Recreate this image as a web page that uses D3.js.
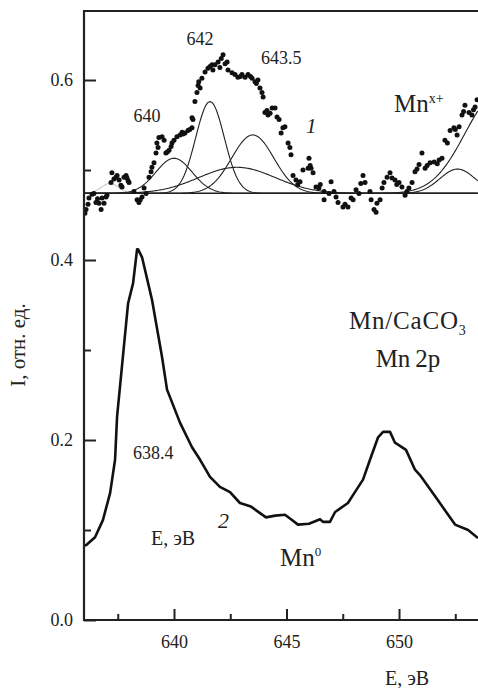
<!DOCTYPE html>
<html><head><meta charset="utf-8">
<script src="https://cdn.jsdelivr.net/npm/d3@7"></script>
<style>
html,body{margin:0;padding:0;background:#fff;}
svg{display:block;}
</style></head>
<body><svg id="c" width="478" height="688"></svg>
<script>
// ---- data ----
const xTicksMajor = [640, 645, 650];
const xTicksMinor = [637.5, 642.5, 647.5, 652.5];
const yTicksMajor = [0.0, 0.2, 0.4, 0.6];
const yTicksMinor = [0.1, 0.3, 0.5];
const yTickLabels = ["0.0", "0.2", "0.4", "0.6"];

// curve 2 (Mn0)
const curve2E = [636.0,636.09,636.49,636.84,637.16,637.38,637.47,637.96,638.18,638.36,638.4,638.58,639.02,639.47,639.69,640.27,640.8,641.16,641.6,642.04,642.49,642.93,643.42,644.09,644.5,644.93,645.2,645.51,646.0,646.49,646.62,646.93,647.16,647.73,648.09,648.4,648.71,649.07,649.29,649.6,649.82,650.31,650.71,650.93,651.73,652.49,653.07,653.51];
const curve2I = [0.083,0.083,0.092,0.111,0.141,0.178,0.226,0.352,0.374,0.412,0.412,0.403,0.356,0.292,0.256,0.219,0.192,0.178,0.159,0.148,0.142,0.130,0.126,0.114,0.116,0.117,0.112,0.106,0.107,0.112,0.109,0.109,0.120,0.130,0.144,0.156,0.178,0.203,0.209,0.209,0.197,0.189,0.167,0.161,0.133,0.106,0.100,0.091];

// curve 1 (Mnx+) experimental points
const dotsE = [636.04,636.09,636.22,636.36,636.44,636.53,636.67,636.76,636.80,636.89,636.98,637.02,637.20,637.24,637.42,637.47,637.56,637.64,637.69,637.78,637.87,637.91,638.00,638.22,638.36,638.44,638.58,638.67,638.76,638.89,638.98,639.02,639.11,639.20,639.24,639.33,639.47,639.56,639.64,639.78,639.87,639.91,640.00,640.13,640.27,640.36,640.49,640.62,640.80,640.84,640.80,640.93,641.02,641.07,641.16,641.24,641.38,641.51,641.69,641.73,641.82,641.96,642.04,642.18,642.36,642.40,642.58,642.71,642.84,643.02,643.16,643.29,643.47,643.60,643.73,643.82,643.91,643.96,644.04,644.18,644.27,644.36,644.49,644.58,644.76,644.84,644.93,645.07,645.20,645.29,645.42,645.60,645.73,645.96,646.00,646.09,646.18,646.31,646.44,646.67,646.67,646.89,646.98,647.11,647.29,647.51,647.73,647.87,647.96,648.09,648.22,648.40,648.49,648.71,648.76,648.89,648.98,649.02,649.16,649.33,649.47,649.60,649.69,649.82,650.00,650.13,650.27,650.44,650.58,650.71,650.89,651.02,651.16,651.38,651.56,651.78,651.91,652.04,652.27,652.44,652.58,652.67,652.80,652.93,653.11,653.24,653.38,653.47,
  636.18,636.60,637.33,637.96,638.50,639.29,639.70,640.40,640.70,641.10,641.60,642.10,642.27,642.95,643.40,643.66,644.13,644.67,645.15,645.50,646.05,646.50,647.20,647.60,648.30,649.25,649.90,650.35,650.80,651.25,651.70,652.15,652.50,652.87,653.31];
const dotsI = [0.452,0.456,0.469,0.473,0.474,0.464,0.463,0.456,0.469,0.463,0.470,0.472,0.486,0.497,0.492,0.494,0.489,0.483,0.481,0.492,0.494,0.491,0.486,0.476,0.467,0.464,0.470,0.480,0.474,0.492,0.498,0.503,0.508,0.519,0.530,0.536,0.537,0.533,0.519,0.522,0.526,0.530,0.533,0.537,0.539,0.542,0.541,0.544,0.547,0.556,0.558,0.576,0.586,0.594,0.591,0.602,0.609,0.613,0.617,0.611,0.617,0.620,0.614,0.628,0.620,0.611,0.608,0.606,0.603,0.606,0.603,0.606,0.602,0.598,0.600,0.591,0.586,0.581,0.564,0.561,0.563,0.569,0.569,0.559,0.541,0.547,0.548,0.530,0.517,0.494,0.489,0.487,0.500,0.502,0.513,0.502,0.497,0.481,0.480,0.476,0.467,0.474,0.487,0.476,0.464,0.459,0.459,0.469,0.467,0.478,0.474,0.494,0.486,0.476,0.467,0.456,0.453,0.463,0.467,0.486,0.492,0.497,0.491,0.489,0.486,0.481,0.472,0.480,0.486,0.498,0.506,0.519,0.502,0.508,0.509,0.511,0.513,0.533,0.544,0.547,0.539,0.548,0.561,0.572,0.564,0.561,0.570,0.578,
  0.462,0.468,0.490,0.488,0.467,0.525,0.520,0.540,0.545,0.598,0.615,0.624,0.618,0.604,0.604,0.596,0.566,0.556,0.525,0.484,0.505,0.484,0.470,0.462,0.485,0.480,0.484,0.476,0.501,0.505,0.507,0.530,0.545,0.565,0.567];

// fitted components (peak position, height above background, FWHM)
const fitBaseline = 0.474;
const compCenter = [637.15, 640.0, 641.6, 643.5, 642.8, 652.6, 654.35];
const compHeight = [0.011, 0.039, 0.102, 0.065, 0.029, 0.027, 0.109];
const compFwhm   = [0.9, 1.9, 1.5, 2.2, 4.0, 1.85, 3.37];
const compColor  = ["#c8c8c8", "#222", "#222", "#222", "#222", "#222", "#222"];

// ---- drawing ----
const FONT = '"Liberation Serif"';
const svg = d3.select("#c");
const L = 84, R = 478, T = 11, B = 620;
const x = d3.scaleLinear().domain([636, 653.51]).range([L, R]);
const y = d3.scaleLinear().domain([0, 0.6]).range([B, 80]);

svg.append("clipPath").attr("id","clip").append("rect")
  .attr("x", L).attr("y", T).attr("width", R - L).attr("height", B - T);
const plot = svg.append("g").attr("clip-path","url(#clip)");

// baseline of fit
plot.append("line").attr("x1", L).attr("x2", R)
  .attr("y1", y(fitBaseline)).attr("y2", y(fitBaseline))
  .attr("stroke", "#333").attr("stroke-width", 1);

// components
const grid = d3.range(636, 653.55, 0.05);
const line = d3.line().x(d => x(d[0])).y(d => y(d[1]));
compCenter.forEach((c, i) => {
  const s = compFwhm[i] / 2.3548;
  const pts = grid.map(e => [e, fitBaseline + compHeight[i] * Math.exp(-((e - c) ** 2) / (2 * s * s))]);
  plot.append("path").attr("d", line(pts)).attr("fill", "none")
    .attr("stroke", compColor[i]).attr("stroke-width", 1.1);
});

// dots
plot.selectAll("circle.d").data(dotsE.map((e, i) => [e, dotsI[i]])).enter()
  .append("circle").attr("class","d")
  .attr("cx", d => x(d[0])).attr("cy", d => y(d[1])).attr("r", 2.5).attr("fill", "#111");

// curve 2
plot.append("path").attr("d", line(curve2E.map((e, i) => [e, curve2I[i]])))
  .attr("fill", "none").attr("stroke", "#111").attr("stroke-width", 2.6)
  .attr("stroke-linejoin", "round");

// axes
const fs = 18;
const gx = svg.append("g").attr("transform", `translate(0,${B})`)
  .call(d3.axisBottom(x).tickValues(xTicksMajor).tickFormat(d3.format("d")).tickSize(-11).tickSizeOuter(0).tickPadding(15));
const gxm = svg.append("g").attr("transform", `translate(0,${B})`)
  .call(d3.axisBottom(x).tickValues(xTicksMinor).tickFormat("").tickSize(-6).tickSizeOuter(0));
const gy = svg.append("g").attr("transform", `translate(${L},0)`)
  .call(d3.axisLeft(y).tickValues(yTicksMajor).tickFormat((d, i) => yTickLabels[i]).tickSize(-12).tickSizeOuter(0).tickPadding(11));
const gym = svg.append("g").attr("transform", `translate(${L},0)`)
  .call(d3.axisLeft(y).tickValues(yTicksMinor).tickFormat("").tickSize(-7).tickSizeOuter(0));
[gx, gxm, gy, gym].forEach(g => {
  g.attr("font-family", null).attr("font-size", null);
  g.selectAll("path.domain").remove();
  g.selectAll(".tick line").attr("stroke", "#222").attr("stroke-width", 2);
  g.selectAll(".tick text").attr("font-size", fs).attr("font-family", "Liberation Serif").style("font-family", FONT).attr("fill", "#222");
});
// frame lines
svg.append("line").attr("x1", L).attr("x2", L).attr("y1", T).attr("y2", B + 1).attr("stroke", "#222").attr("stroke-width", 2.2);
svg.append("line").attr("x1", L - 1).attr("x2", R).attr("y1", B).attr("y2", B).attr("stroke", "#222").attr("stroke-width", 2.2);
svg.append("line").attr("x1", L - 1).attr("x2", R).attr("y1", T).attr("y2", T).attr("stroke", "#222").attr("stroke-width", 2.2);

// texts
function txt(s, xx, yy, size, opts = {}) {
  const t = svg.append("text").attr("x", xx).attr("y", yy).attr("font-size", size)
    .attr("font-family", "Liberation Serif").style("font-family", FONT).attr("fill", "#222").text(s);
  if (opts.anchor) t.attr("text-anchor", opts.anchor);
  if (opts.italic) t.attr("font-style", "italic");
  return t;
}
txt("642", 200, 45, fs, {anchor: "middle"});
txt("640", 147, 122, fs, {anchor: "middle"});
txt("643.5", 261, 64, fs);
txt("638.4", 133, 459, fs);
txt("1", 306, 133, 21, {italic: true});
txt("2", 218, 528, 22, {italic: true});

const mnx = txt("", 394, 112, 25);
mnx.append("tspan").text("Mn");
mnx.append("tspan").attr("font-size", 14).attr("dy", -9).text("x+");

const mnc = txt("", 349, 329, 25).attr("letter-spacing", 0.8);
mnc.append("tspan").text("Mn/CaCO");
mnc.append("tspan").attr("font-size", 14).attr("dy", 6).attr("letter-spacing", 0).text("3");
txt("Mn\u20092p", 408, 367, 25, {anchor: "middle"});

const mn0 = txt("", 280, 566, 25);
mn0.append("tspan").text("Mn");
mn0.append("tspan").attr("font-size", 13).attr("dy", -10).text("0");

txt("E, эВ", 151, 545, 20);
txt("E, эВ", 385, 685, 20);
txt("I, отн. ед.", 0, 0, 21, {anchor: "middle"}).attr("transform", "translate(25,345) rotate(-90)");
</script></body></html>
